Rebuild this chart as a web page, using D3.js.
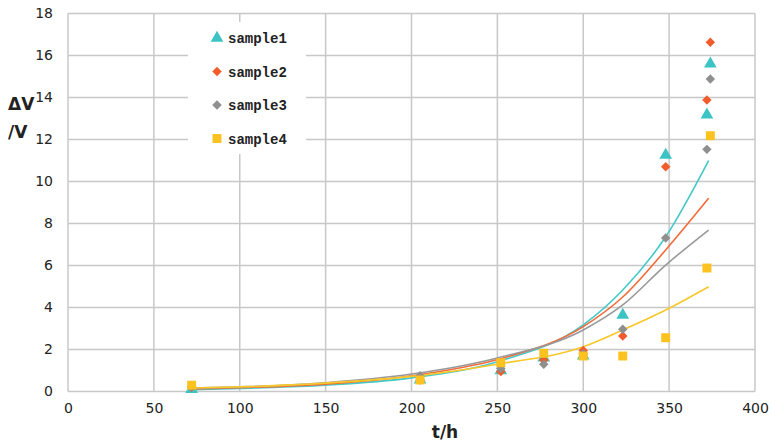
<!DOCTYPE html>
<html>
<head>
<meta charset="utf-8">
<script src="https://cdn.jsdelivr.net/npm/d3@7"></script>
<style>
  body { margin: 0; background: #fff; }
  svg text { font-family: "DejaVu Sans", sans-serif; fill: #222; }
</style>
</head>
<body>
<svg id="chart" width="769" height="443"></svg>
<script>
// measured times (h)
const times = [72, 205, 252, 277, 300, 323, 348, 372, 374];

// ΔV/V for each sample
const sample1 = [0.1, 0.55, 1.0, 1.6, 1.7, 3.64, 11.26, 13.17, 15.6];
const sample2 = [0.2, 0.55, 0.95, 1.5, 1.95, 2.64, 10.7, 13.88, 16.63];
const sample3 = [0.25, 0.75, 1.1, 1.3, 1.8, 2.96, 7.31, 11.53, 14.88];
const sample4 = [0.3, 0.55, 1.37, 1.82, 1.69, 1.69, 2.56, 5.88, 12.18];

// trend lines, read at a few times
const trendTimes = [72, 100, 150, 200, 250, 300, 323, 348, 373];
const trend1 = [0.08, 0.15, 0.3, 0.65, 1.42, 3.17, 4.83, 7.37, 11.0];
const trend2 = [0.12, 0.18, 0.35, 0.75, 1.52, 3.09, 4.5, 6.74, 9.2];
const trend3 = [0.17, 0.22, 0.42, 0.83, 1.6, 2.93, 4.12, 6.02, 7.69];
const trend4 = [0.17, 0.22, 0.4, 0.72, 1.3, 2.13, 2.93, 3.88, 4.99];

const names = ['sample1', 'sample2', 'sample3', 'sample4'];
const xTicks = [0, 50, 100, 150, 200, 250, 300, 350, 400];
const yTicks = [0, 2, 4, 6, 8, 10, 12, 14, 16, 18];

const colors = ['#3cc3c3', '#f25c2a', '#8f8f8f', '#fcc21f'];
const lineColors = ['#44c8c8', '#f26a3a', '#999999', '#f8c72a'];
const shapes = [d3.symbolTriangle, d3.symbolSquare, d3.symbolSquare, d3.symbolSquare];
const sizes = [70, 45, 45, 80];
const rotations = [0, 45, 45, 0];

const samples = [sample1, sample2, sample3, sample4];
const trends = [trend1, trend2, trend3, trend4];

const svg = d3.select('#chart');

const x = d3.scaleLinear().domain([0, 400]).range([68, 755]);
const y = d3.scaleLinear().domain([0, 18]).range([391.5, 13.5]);

// grid
const grid = svg.append('g');
grid.selectAll('.gx')
  .data(xTicks)
  .enter()
  .append('line')
  .attr('x1', d => x(d)).attr('x2', d => x(d))
  .attr('y1', y(0)).attr('y2', y(18))
  .attr('stroke', '#c8c8c8')
  .attr('stroke-width', 1.5);

grid.selectAll('.gy')
  .data(yTicks)
  .enter()
  .append('line')
  .attr('x1', x(0)).attr('x2', x(400))
  .attr('y1', d => y(d)).attr('y2', d => y(d))
  .attr('stroke', '#c8c8c8')
  .attr('stroke-width', 1.5);

// axes
svg.append('g')
  .attr('transform', 'translate(0,' + y(0) + ')')
  .call(d3.axisBottom(x).tickValues(xTicks).tickSize(0).tickPadding(12));

svg.append('g')
  .attr('transform', 'translate(' + x(0) + ',0)')
  .call(d3.axisLeft(y).tickValues(yTicks).tickSize(0).tickPadding(15));

svg.selectAll('.domain').remove();
svg.selectAll('.tick text')
  .attr('font-size', 14)
  .attr('fill', '#222');

// axis titles
svg.append('text')
  .attr('x', 8).attr('y', 110)
  .attr('font-size', 17).attr('font-weight', 'bold')
  .text('ΔV');
svg.append('text')
  .attr('x', 8).attr('y', 138)
  .attr('font-size', 17).attr('font-weight', 'bold')
  .text('/V');
svg.append('text')
  .attr('x', 445).attr('y', 438)
  .attr('text-anchor', 'middle')
  .attr('font-size', 17).attr('font-weight', 'bold')
  .text('t/h');

// trend lines
const line = d3.line()
  .x((d, i) => x(trendTimes[i]))
  .y(d => y(d))
  .curve(d3.curveMonotoneX);

trends.forEach((t, k) => {
  svg.append('path')
    .datum(t)
    .attr('d', line)
    .attr('fill', 'none')
    .attr('stroke', lineColors[k])
    .attr('stroke-width', 1.6);
});

// markers
samples.forEach((s, k) => {
  svg.append('g')
    .selectAll('path')
    .data(s)
    .enter()
    .append('path')
    .attr('d', d3.symbol().type(shapes[k]).size(sizes[k]))
    .attr('transform', (d, i) => 'translate(' + x(times[i]) + ',' + y(d) + ') rotate(' + rotations[k] + ')')
    .attr('fill', colors[k]);
});

// legend
const legend = svg.append('g');
legend.append('rect')
  .attr('x', 188).attr('y', 22)
  .attr('width', 118).attr('height', 132)
  .attr('fill', '#fff');

names.forEach((n, k) => {
  const ly = 38 + k * 33.5;
  legend.append('path')
    .attr('d', d3.symbol().type(shapes[k]).size(sizes[k]))
    .attr('transform', 'translate(217,' + ly + ') rotate(' + rotations[k] + ')')
    .attr('fill', colors[k]);
  legend.append('text')
    .attr('x', 228).attr('y', ly + 5)
    .style('font-family', '"Liberation Mono", "DejaVu Sans Mono", monospace')
    .style('font-size', '14px')
    .style('font-weight', 'bold')
    .style('fill', '#222')
    .text(n);
});
</script>
</body>
</html>
